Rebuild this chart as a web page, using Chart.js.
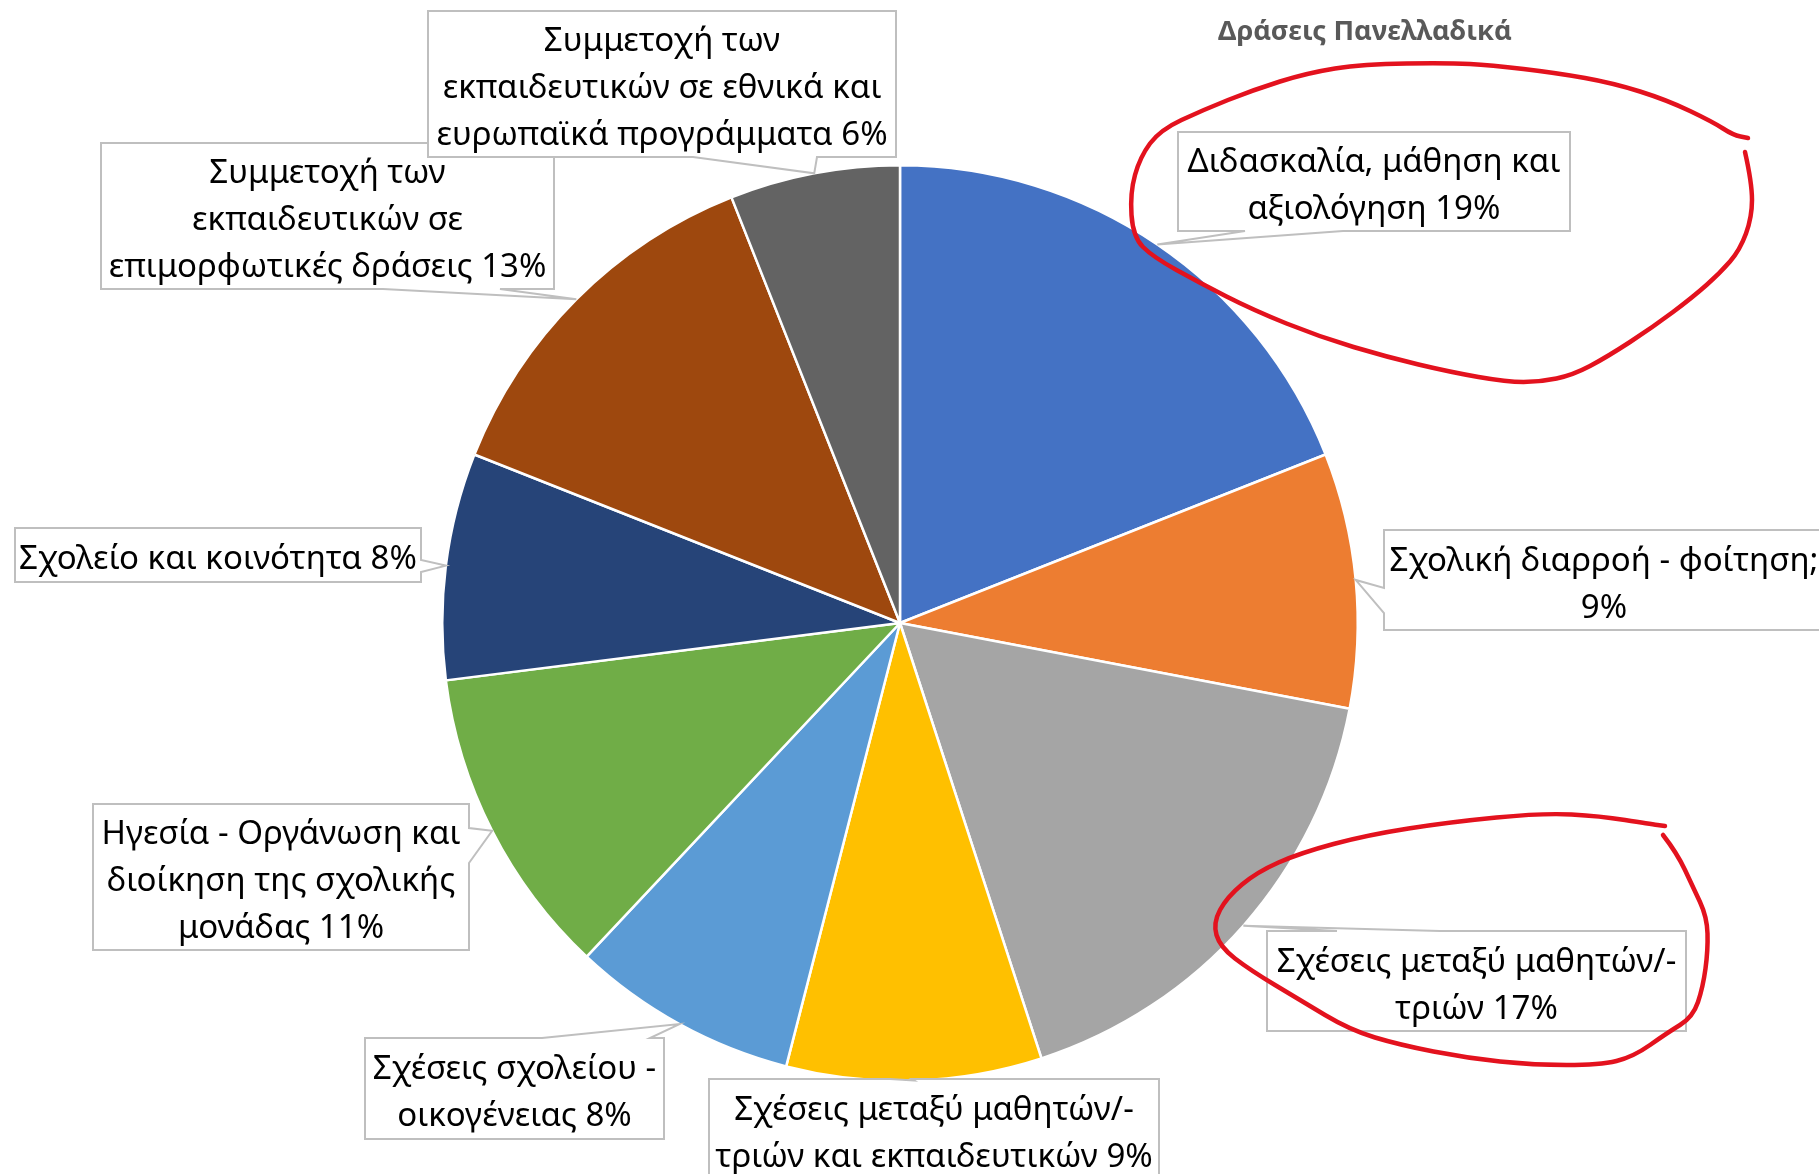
<!DOCTYPE html>
<html><head><meta charset="utf-8">
<script src="https://cdn.jsdelivr.net/npm/chart.js@4.4.0/dist/chart.umd.min.js"></script>
<style>html,body{margin:0;padding:0;background:#fff;overflow:hidden}canvas{display:block}</style>
</head><body>
<canvas id="c" width="1819" height="1174"></canvas>
<script>
// ---------- DATA ----------
const chartTitle = "Δράσεις Πανελλαδικά";
const categories = [
  "Διδασκαλία, μάθηση και αξιολόγηση",
  "Σχολική διαρροή - φοίτηση;",
  "Σχέσεις μεταξύ μαθητών/-τριών",
  "Σχέσεις μεταξύ μαθητών/-τριών και εκπαιδευτικών",
  "Σχέσεις σχολείου - οικογένειας",
  "Ηγεσία - Οργάνωση και διοίκηση της σχολικής μονάδας",
  "Σχολείο και κοινότητα",
  "Συμμετοχή των εκπαιδευτικών σε επιμορφωτικές δράσεις",
  "Συμμετοχή των εκπαιδευτικών σε εθνικά και ευρωπαϊκά προγράμματα"
];
const values = [19, 9, 17, 9, 8, 11, 8, 13, 6];
// category text wrapped as in the picture (value % appended to the last line)
const labelLines = [
  ["Διδασκαλία, μάθηση και", "αξιολόγηση"],
  ["Σχολική διαρροή - φοίτηση;", ""],
  ["Σχέσεις μεταξύ μαθητών/-", "τριών"],
  ["Σχέσεις μεταξύ μαθητών/-", "τριών και εκπαιδευτικών"],
  ["Σχέσεις σχολείου -", "οικογένειας"],
  ["Ηγεσία - Οργάνωση και", "διοίκηση της σχολικής", "μονάδας"],
  ["Σχολείο και κοινότητα"],
  ["Συμμετοχή των", "εκπαιδευτικών σε", "επιμορφωτικές δράσεις"],
  ["Συμμετοχή των", "εκπαιδευτικών σε εθνικά και", "ευρωπαϊκά προγράμματα"]
];
const colors = ["#4472C4","#ED7D31","#A5A5A5","#FFC000","#5B9BD5","#70AD47","#264478","#9E480E","#636363"];

// ---------- LAYOUT (label boxes & annotations) ----------
const boxes = [
  {r:[1178,132,1570,231], edge:"bottom", base:[1245,1343]},
  {r:[1384,530,1824,630], edge:"left",   base:[588,613]},
  {r:[1267,931,1686,1031], edge:"top",   base:[1337,1440]},
  {r:[709,1079,1159,1180], edge:"top",   base:[890,912]},
  {r:[365,1038,664,1139], edge:"top",    base:[542,650]},
  {r:[93,804,469,950],    edge:"right",  base:[828,863]},
  {r:[15,528,421,582],    edge:"right",  base:[560,572]},
  {r:[101,143,554,289],   edge:"bottom", base:[383,500]},
  {r:[428,11,896,157],    edge:"bottom", base:[693,817]}
];
const loops = [
  [[1745,152],[1752,183],[1752,217],[1740,250],[1720,273],[1693,297],[1653,327],[1607,357],[1573,375],[1540,382],[1507,382],[1450,372],[1387,357],[1320,337],[1253,310],[1200,283],[1153,257],[1133,237],[1130,193],[1140,157],[1160,130],[1203,110],[1253,90],[1307,73],[1363,64],[1450,63],[1490,65],[1557,73],[1613,83],[1667,100],[1713,122],[1733,135],[1748,138]],
  [[1663,835],[1677,853],[1693,887],[1707,917],[1708,950],[1703,987],[1693,1017],[1667,1033],[1633,1057],[1600,1065],[1533,1065],[1467,1058],[1400,1045],[1350,1030],[1300,1000],[1250,970],[1220,947],[1213,923],[1227,897],[1257,872],[1300,853],[1367,835],[1450,822],[1543,813],[1600,816],[1650,824],[1665,826]]
];

const FONT = '"Noto Sans", "Open Sans", "DejaVu Sans", sans-serif';
const LINE_H = 47;

function fitSize(ctx, text, target, weight) {
  ctx.font = weight + " 40px " + FONT;
  return 40 * target / ctx.measureText(text).width;
}

function calloutPath(ctx, r, edge, base, tip) {
  const [x1,y1,x2,y2] = r;
  ctx.beginPath();
  ctx.moveTo(x1,y1);
  if (edge==="top") { ctx.lineTo(base[0],y1); ctx.lineTo(tip[0],tip[1]); ctx.lineTo(base[1],y1); }
  ctx.lineTo(x2,y1);
  if (edge==="right") { ctx.lineTo(x2,base[0]); ctx.lineTo(tip[0],tip[1]); ctx.lineTo(x2,base[1]); }
  ctx.lineTo(x2,y2);
  if (edge==="bottom") { ctx.lineTo(base[1],y2); ctx.lineTo(tip[0],tip[1]); ctx.lineTo(base[0],y2); }
  ctx.lineTo(x1,y2);
  if (edge==="left") { ctx.lineTo(x1,base[1]); ctx.lineTo(tip[0],tip[1]); ctx.lineTo(x1,base[0]); }
  ctx.closePath();
}

const overlay = {
  id: "overlay",
  afterDraw(chart) {
    const ctx = chart.ctx;
    const meta = chart.getDatasetMeta(0);
    const labelSize = fitSize(ctx, "Διδασκαλία, μάθηση και", 373, "normal");
    const titleSize = fitSize(ctx, chartTitle, 294, "bold");
    ctx.save();
    // title
    ctx.font = "bold " + titleSize + "px " + FONT;
    ctx.fillStyle = "#595959";
    ctx.textAlign = "center";
    ctx.textBaseline = "alphabetic";
    ctx.fillText(chartTitle, 1365, 40);

    // callout labels
    meta.data.forEach((arc, i) => {
      const p = arc.getProps(["x","y","startAngle","endAngle","outerRadius"], true);
      const mid = (p.startAngle + p.endAngle) / 2;
      const tip = [p.x + Math.cos(mid) * p.outerRadius, p.y + Math.sin(mid) * p.outerRadius];
      const b = boxes[i];
      calloutPath(ctx, b.r, b.edge, b.base, tip);
      ctx.fillStyle = "#FFFFFF";
      ctx.fill();
      ctx.lineWidth = 2;
      ctx.strokeStyle = "#BFBFBF";
      ctx.stroke();

      const lines = labelLines[i].slice();
      lines[lines.length-1] = (lines[lines.length-1] + " " + values[i] + "%").trim();
      const cx = (b.r[0] + b.r[2]) / 2, cy = (b.r[1] + b.r[3]) / 2;
      ctx.font = labelSize + "px " + FONT;
      ctx.fillStyle = "#000000";
      ctx.textAlign = "center";
      ctx.textBaseline = "alphabetic";
      const n = lines.length;
      lines.forEach((t, k) => {
        ctx.fillText(t, cx, cy + (k - (n-1)/2) * LINE_H + 14);
      });
    });

    // red hand-drawn annotation loops
    ctx.strokeStyle = "#E3121E";
    ctx.lineWidth = 4.5;
    ctx.lineCap = "round";
    ctx.lineJoin = "round";
    loops.forEach(pts => {
      ctx.beginPath();
      ctx.moveTo(pts[0][0], pts[0][1]);
      for (let k = 1; k < pts.length - 1; k++) {
        const mx = (pts[k][0] + pts[k+1][0]) / 2, my = (pts[k][1] + pts[k+1][1]) / 2;
        ctx.quadraticCurveTo(pts[k][0], pts[k][1], mx, my);
      }
      const last = pts[pts.length-1];
      ctx.lineTo(last[0], last[1]);
      ctx.stroke();
    });
    ctx.restore();
  }
};

new Chart(document.getElementById("c"), {
  type: "pie",
  data: {
    labels: categories,
    datasets: [{
      data: values,
      backgroundColor: colors,
      borderColor: "#FFFFFF",
      borderWidth: 2.5
    }]
  },
  options: {
    responsive: false,
    devicePixelRatio: 1,
    animation: false,
    layout: { padding: { left: 441, right: 460, top: 164, bottom: 92 } },
    plugins: {
      legend: { display: false },
      tooltip: { enabled: false },
      title: { display: false }
    }
  },
  plugins: [overlay]
});
</script>
</body></html>
